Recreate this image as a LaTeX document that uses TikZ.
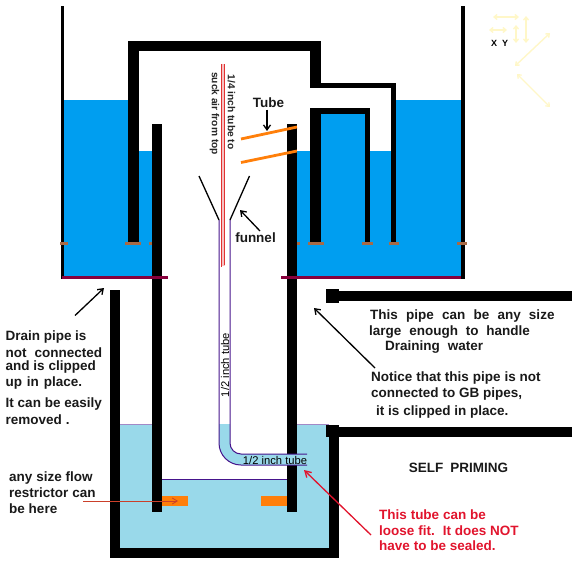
\documentclass[tikz,border=0pt]{standalone}
\usepackage{fontspec}
\setmainfont{Liberation Sans}
\usetikzlibrary{arrows.meta}
\definecolor{water}{RGB}{0,158,240}
\definecolor{lowwater}{RGB}{153,217,234}
\definecolor{maroon}{RGB}{136,0,60}
\definecolor{brownmark}{RGB}{168,106,70}
\definecolor{orangetube}{RGB}{255,127,10}
\definecolor{purpletube}{RGB}{70,20,140}
\definecolor{redtube}{RGB}{225,50,50}
\definecolor{paleyellow}{RGB}{255,247,200}
\definecolor{redtext}{RGB}{225,20,45}
\newcommand{\wsp}[1]{\fontdimen2\font=#1\relax}
\tikzset{
  x=1pt,y=-1pt,
  wall/.style={fill=black,draw=none},
  wet/.style={fill=water,draw=none},
  lowwet/.style={fill=lowwater,draw=none},
  brownbar/.style={fill=brownmark,draw=none},
  lbl/.style={font=\fontsize{13.5}{15}\selectfont\bfseries,anchor=west,inner sep=0pt,text=black!90},
  redlbl/.style={lbl,text=redtext},
  small/.style={font=\fontsize{11.2}{13}\selectfont,inner sep=0pt,text=black},
  rot/.style={font=\fontsize{10.2}{12}\selectfont\bfseries,inner sep=0pt,text=black!85},
  pointer/.style={draw=black,line width=1.3pt,-{Straight Barb[length=5pt,width=7pt]}},
  pale/.style={draw=paleyellow,line width=1.4pt,{Straight Barb[length=3pt,width=5pt]}-{Straight Barb[length=3pt,width=5pt]}},
}
\begin{document}
\begin{tikzpicture}
\useasboundingbox (0,0) rectangle (572,578);
% upper tank water
\fill[wet] (64,100) rectangle (128,276);
\fill[wet] (128,151) rectangle (152,276);
\fill[wet] (297,151) rectangle (461,276);
\fill[wet] (396,100) rectangle (461,276);
\fill[wet] (321,114) rectangle (365,160);
% lower tank water
\fill[lowwet] (120,424) rectangle (329,548);
\fill[white] (162,424) rectangle (287,479);
\draw[purpletube,line width=.6pt] (162,479.5) -- (287,479.5);
\draw[purpletube!50,line width=.7pt] (120,424.5) -- (152,424.5) (297,424.5) -- (329,424.5);
% walls
\fill[wall] (60.5,6) rectangle (64,279);
\fill[wall] (461.3,6) rectangle (464.7,279);
\fill[wall] (128,41) rectangle (321,51);
\fill[wall] (128,41) rectangle (138.5,243);
\fill[wall] (310.3,41) rectangle (321,87);
\fill[wall] (310.3,83) rectangle (396,88);
\fill[wall] (391,83) rectangle (396,243);
\fill[wall] (310.3,108) rectangle (370,114);
\fill[wall] (310.3,108) rectangle (321,243);
\fill[wall] (364.7,108) rectangle (370,243);
\fill[wall] (152,124) rectangle (162,512);
\fill[wall] (287,124) rectangle (297,512);
\fill[wall] (110,290) rectangle (120,558);
\fill[wall] (110,548) rectangle (339,558);
\fill[wall] (329,425) rectangle (339,558);
% outlet pipes
\fill[wall] (326,291) rectangle (572,301);
\fill[wall] (326,289) rectangle (339,303);
\fill[wall] (326,427) rectangle (572,437);
\fill[wall] (326,425) rectangle (339,437);
% maroon drain lines
\fill[maroon] (62,276) rectangle (168,279);
\fill[maroon] (281,276) rectangle (461.3,279);
% brown marks
\foreach \a/\b in {60/68,125/141,149/152,297/300,308/324,362/373,389/399,457/467}
  \fill[brownbar] (\a,242) rectangle (\b,245);
% restrictors
\fill[orangetube] (162,496) rectangle (188,506);
\fill[orangetube] (261,496) rectangle (287,506);
% half inch tube
\fill[white] (219,220) rectangle (230,424);
\fill[lowwet] (219,424) -- (219,443) arc[start angle=180,end angle=90,radius=22] -- (307,465) -- (307,454) -- (241,454) arc[start angle=90,end angle=180,radius=11] -- (230,424) -- cycle;
\draw[purpletube,line width=1pt] (219,220) -- (219,443) arc[start angle=180,end angle=90,radius=22] -- (307,465);
\draw[purpletube,line width=1pt] (230,220) -- (230,443) arc[start angle=180,end angle=90,radius=11] -- (307,454);
% quarter inch tube
\fill[redtube!30] (221,64) rectangle (224.5,266);
\draw[redtube,line width=1pt] (221,64) -- (221,267);
\draw[redtube,line width=1pt] (224.5,64) -- (224.5,265);
% funnel
\coordinate (fa) at (199,176);
\coordinate (fb) at (219,220);
\coordinate (fc) at (249.5,176);
\coordinate (fd) at (230,220);
\draw[black,line width=1.3pt] (fa) -- (fb);
\draw[black,line width=1.3pt] (fc) -- (fd);
% orange tube
\coordinate (ta) at (241,139);
\coordinate (tb) at (297,127);
\coordinate (tc) at (241,162.5);
\coordinate (td) at (297,151);
\draw[orangetube,line width=2.8pt] (ta) -- (tb);
\draw[orangetube,line width=2.8pt] (tc) -- (td);
% labels
\node[lbl,anchor=center] (ltube) at (268.5,102.5) {Tube};
\coordinate (ltubetip) at (267,131);
\draw[pointer] (ltube.south -| ltubetip) ++(0,2) -- (ltubetip);
\node[lbl,anchor=center] (lfunnel) at (255.5,238) {funnel};
\coordinate (ffrom) at (260,231);
\coordinate (fto) at (240,210);
\draw[pointer] (ffrom) -- (fto);
\node[rot,rotate=-90] (q1) at (231.5,112) {1/4 inch tube to};
\node[rot,rotate=-90] (q2) at (214.5,113.5) {suck air from top};
\node[small,rotate=90] (h1) at (225,365) {1/2 inch tube};
\node[small] (h2) at (275,460) {1/2 inch tube};
\node[lbl] (d1) at (5.5,337.5) {\wsp{3.6pt}Drain pipe is};
\node[lbl] (d2) at (5.5,353) {\wsp{8pt}not connected};
\node[lbl] (d3) at (5.5,367.5) {\wsp{3.8pt}and is clipped};
\node[lbl] (d4) at (5.5,383) {\wsp{4.8pt}up in place.};
\node[lbl] (d5) at (5.5,404) {\wsp{3.8pt}It can be easily};
\node[lbl] (d6) at (5.5,419.5) {\wsp{3.8pt}removed .};
\coordinate (dfrom) at (75,315.5);
\coordinate (dto) at (104,288);
\draw[pointer] (dfrom) -- (dto);
\node[lbl] (f1) at (9,478) {\wsp{3.8pt}any size flow};
\node[lbl] (f2) at (9,493) {\wsp{3.8pt}restrictor can};
\node[lbl] (f3) at (9,508.5) {\wsp{3.8pt}be here};
\coordinate (rfrom) at (83,501);
\coordinate (rto) at (178,501);
\draw[draw=brownmark!60!red,line width=.8pt,-{Straight Barb[length=5pt,width=6pt]}] (rfrom) -- (rto);
\node[lbl] (p1) at (370,316) {\wsp{8.2pt}This pipe can be any size};
\node[lbl] (p2) at (369,332) {\wsp{7.8pt}large enough to handle};
\node[lbl] (p3) at (385,347) {\wsp{8pt}Draining water};
\node[lbl] (n1) at (371,378.5) {\wsp{3.9pt}Notice that this pipe is not};
\node[lbl] (n2) at (371,394) {\wsp{3.8pt}connected to GB pipes,};
\node[lbl] (n3) at (376,412.5) {\wsp{3.8pt}it is clipped in place.};
\coordinate (nfrom) at (375,368);
\coordinate (nto) at (314,308);
\draw[pointer] (nfrom) -- (nto);
\node[lbl,anchor=center] (sp) at (458.5,468) {\wsp{7pt}SELF PRIMING};
\node[redlbl] (r1) at (379,515) {\wsp{3.8pt}This tube can be};
\node[redlbl] (r2) at (379,530.5) {\wsp{3.8pt}loose fit.\hspace{3pt} It does NOT};
\node[redlbl] (r3) at (379,546) {\wsp{3.8pt}have to be sealed.};
\coordinate (ffr) at (371,535);
\coordinate (fre) at (304,470);
\draw[draw=redtext,line width=1.3pt,-{Straight Barb[length=6pt,width=7pt]}] (ffr) -- (fre);
% pale XY
\node[small,font=\fontsize{9}{10}\selectfont\bfseries] (xl) at (494,43.5) {X};
\node[small,font=\fontsize{9}{10}\selectfont\bfseries] (yl) at (505,43.5) {Y};
\coordinate (y1) at (493,17); \coordinate (y2) at (519,17);
\coordinate (y3) at (489,30); \coordinate (y4) at (507,30);
\coordinate (y5) at (516,25); \coordinate (y6) at (516,43);
\coordinate (y7) at (526,16); \coordinate (y8) at (526,43);
\coordinate (y9) at (550,33); \coordinate (y10) at (515,66);
\coordinate (y11) at (517,74); \coordinate (y12) at (550,107);
\draw[pale] (y1) -- (y2);
\draw[pale] (y3) -- (y4);
\draw[pale] (y5) -- (y6);
\draw[pale] (y7) -- (y8);
\draw[pale] (y9) -- (y10);
\draw[pale] (y11) -- (y12);
\end{tikzpicture}
\end{document}
